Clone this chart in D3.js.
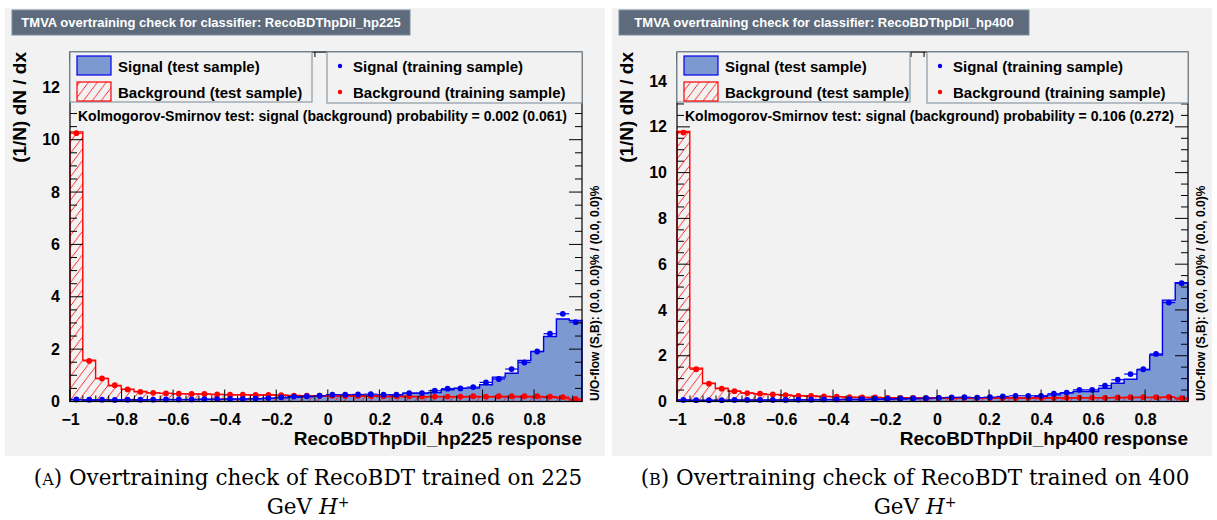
<!DOCTYPE html>
<html><head><meta charset="utf-8">
<script src="https://cdn.jsdelivr.net/npm/d3@7"></script>
<style>
html,body{margin:0;padding:0;background:#fff;}
svg{display:block;}
text{font-family:"Liberation Sans",Arial,sans-serif;font-weight:bold;}
.cap{font-family:"DejaVu Serif","Liberation Serif",serif;font-weight:normal;}
</style></head>
<body>
<svg id="chart" width="1217" height="520"></svg>
<script>
// ---------------- data ----------------
const nBins = 40;
const xTickValues = [-1, -0.8, -0.6, -0.4, -0.2, 0, 0.2, 0.4, 0.6, 0.8];

// Panel A : RecoBDThpDil_hp225
const titleA = "TMVA overtraining check for classifier: RecoBDThpDil_hp225";
const xTitleA = "RecoBDThpDil_hp225 response";
const ksA = "Kolmogorov-Smirnov test: signal (background) probability = 0.002 (0.061)";
const rangeA = [-1, 0.986];
const yMaxA = 13.35;
const yTicksA = [0, 2, 4, 6, 8, 10, 12];
const sigTestA  = [0.07,0.06,0.06,0.06,0.06,0.06,0.07,0.07,0.07,0.07,0.08,0.08,0.09,0.09,0.10,0.12,0.14,0.16,0.18,0.20,0.23,0.24,0.24,0.23,0.19,0.25,0.32,0.32,0.34,0.45,0.51,0.51,0.64,0.93,1.08,1.57,1.91,2.48,3.15,3.10];
const sigTrainA = [0.08,0.07,0.07,0.06,0.07,0.07,0.07,0.08,0.08,0.08,0.09,0.09,0.10,0.10,0.11,0.13,0.16,0.19,0.20,0.22,0.26,0.26,0.27,0.28,0.26,0.26,0.32,0.32,0.41,0.49,0.50,0.55,0.73,0.86,1.24,1.49,1.91,2.59,3.35,3.03];
const bkgTestA  = [10.30,1.58,0.88,0.60,0.47,0.38,0.33,0.31,0.29,0.28,0.28,0.27,0.26,0.26,0.25,0.25,0.24,0.23,0.22,0.22,0.21,0.21,0.20,0.20,0.19,0.19,0.18,0.18,0.18,0.18,0.17,0.17,0.18,0.17,0.18,0.17,0.17,0.15,0.13,0.06];
const bkgTrainA = [10.25,1.55,0.88,0.62,0.46,0.37,0.33,0.31,0.30,0.29,0.29,0.27,0.26,0.26,0.25,0.25,0.24,0.22,0.22,0.22,0.22,0.21,0.21,0.21,0.20,0.20,0.20,0.19,0.19,0.19,0.19,0.20,0.19,0.20,0.20,0.20,0.20,0.19,0.17,0.10];
const capA = ["Overtraining check of RecoBDT trained on 225", "GeV "];

// Panel B : RecoBDThpDil_hp400
const titleB = "TMVA overtraining check for classifier: RecoBDThpDil_hp400";
const xTitleB = "RecoBDThpDil_hp400 response";
const ksB = "Kolmogorov-Smirnov test: signal (background) probability = 0.106 (0.272)";
const rangeB = [-1, 0.965];
const yMaxB = 15.27;
const yTicksB = [0, 2, 4, 6, 8, 10, 12, 14];
const sigTestB  = [0.06,0.05,0.05,0.05,0.06,0.06,0.06,0.06,0.07,0.07,0.07,0.08,0.08,0.09,0.09,0.10,0.10,0.11,0.12,0.13,0.14,0.15,0.15,0.15,0.16,0.16,0.17,0.17,0.22,0.29,0.37,0.44,0.44,0.58,0.80,0.97,1.38,2.03,4.43,5.19];
const sigTrainB = [0.07,0.06,0.06,0.06,0.07,0.07,0.07,0.07,0.07,0.08,0.08,0.09,0.09,0.10,0.10,0.11,0.12,0.13,0.14,0.15,0.16,0.18,0.19,0.17,0.19,0.22,0.25,0.25,0.25,0.34,0.39,0.51,0.51,0.69,0.95,1.20,1.41,2.08,4.32,5.17];
const bkgTestB  = [11.80,1.46,0.80,0.58,0.45,0.37,0.33,0.30,0.27,0.25,0.24,0.22,0.21,0.19,0.18,0.18,0.17,0.17,0.16,0.16,0.16,0.15,0.15,0.15,0.15,0.15,0.15,0.15,0.15,0.15,0.15,0.15,0.16,0.16,0.16,0.17,0.17,0.17,0.18,0.12];
const bkgTrainB = [11.75,1.41,0.78,0.56,0.45,0.37,0.34,0.31,0.28,0.25,0.24,0.22,0.21,0.19,0.18,0.18,0.16,0.16,0.16,0.15,0.15,0.15,0.16,0.16,0.15,0.15,0.15,0.16,0.16,0.16,0.16,0.17,0.17,0.16,0.18,0.19,0.19,0.19,0.20,0.15];
const capB = ["Overtraining check of RecoBDT trained on 400", "GeV "];

const legendLabels = ["Signal (test sample)", "Background (test sample)", "Signal (training sample)", "Background (training sample)"];
const yTitle = "(1/N) dN / dx";
const uoText = "U/O-flow (S,B): (0.0, 0.0)% / (0.0, 0.0)%";

// ---------------- style ----------------
const C = {pad:"#f2f2f2", title:"#5d6b7d", border:"#8a98a6", sigFill:"#7d99d1", sigLine:"#0000ee", bkg:"#ff0000", axis:"#000"};

const svg = d3.select("#chart");
const defs = svg.append("defs");
const hatch = defs.append("pattern").attr("id","hatch").attr("patternUnits","userSpaceOnUse")
  .attr("width",10).attr("height",10).attr("patternTransform","rotate(-8)");
hatch.append("path").attr("d","M0,10 L10,0 M-2,2 L2,-2 M8,12 L12,8").attr("stroke",C.bkg).attr("stroke-width",0.9);

function panel(cfg){
  const g = svg.append("g");
  // pad background
  g.append("rect").attr("x",cfg.padX).attr("y",8).attr("width",600).attr("height",448).attr("fill",C.pad);
  // title box
  g.append("rect").attr("x",cfg.padX+7).attr("y",10).attr("width",cfg.titleW).attr("height",25)
    .attr("fill",C.title).attr("stroke","#7d8b9d").attr("stroke-width",1);
  g.append("text").attr("x",cfg.padX+7+cfg.titleW/2).attr("y",27).attr("text-anchor","middle")
    .attr("fill","#fff").attr("font-size",13).text(cfg.title);

  const x = d3.scaleLinear().domain(cfg.range).range([cfg.x0, cfg.x1]);
  const y = d3.scaleLinear().domain([0, cfg.yMax]).range([401.5, 52]);
  const edges = d3.range(nBins+1).map(i => cfg.range[0] + i*(cfg.range[1]-cfg.range[0])/nBins);

  const stepPath = vals => {
    let p = d3.path();
    p.moveTo(x(edges[0]), y(0));
    vals.forEach((v,i)=>{ p.lineTo(x(edges[i]), y(v)); p.lineTo(x(edges[i+1]), y(v)); });
    p.lineTo(x(edges[nBins]), y(0));
    return p.toString();
  };

  const plot = g.append("g");
  plot.append("path").attr("d", stepPath(cfg.sigTest)).attr("fill",C.sigFill).attr("stroke",C.sigLine).attr("stroke-width",1.4);
  plot.append("path").attr("d", stepPath(cfg.bkgTest)).attr("fill","url(#hatch)").attr("stroke",C.bkg).attr("stroke-width",1.4);

  const pts = (vals,col) => {
    const pg = plot.append("g");
    pg.selectAll("line").data(vals).join("line")
      .attr("x1",(d,i)=>x(edges[i])).attr("x2",(d,i)=>x(edges[i+1]))
      .attr("y1",d=>y(d)).attr("y2",d=>y(d)).attr("stroke",col).attr("stroke-width",1.2);
    pg.selectAll("circle").data(vals).join("circle")
      .attr("cx",(d,i)=>x((edges[i]+edges[i+1])/2)).attr("cy",d=>y(d)).attr("r",2.9).attr("fill",col);
  };
  pts(cfg.bkgTrain, C.bkg);
  pts(cfg.sigTrain, C.sigLine);

  // frame + axes (ticks inside)
  const fr = g.append("g");
  const xMinor = d3.range(-1, cfg.range[1]+1e-9, 0.05);
  const yMinor = d3.range(0, cfg.yMax+1e-9, 0.5);
  const bot = y(0), top = 52;
  const isMajX = d => Math.abs(Math.round(d*5)-d*5)<1e-6;
  fr.selectAll(".xt").data(xMinor).join("line")
    .attr("x1",d=>x(d)).attr("x2",d=>x(d)).attr("y1",bot).attr("y2",d=>bot-(isMajX(d)?12:6)).attr("stroke","#000");
  fr.selectAll(".xtt").data(xMinor).join("line")
    .attr("x1",d=>x(d)).attr("x2",d=>x(d)).attr("y1",top).attr("y2",d=>top+(isMajX(d)?10:5)).attr("stroke","#000");
  fr.selectAll(".yt").data(yMinor).join("line")
    .attr("y1",d=>y(d)).attr("y2",d=>y(d)).attr("x1",cfg.x0).attr("x2",d=>cfg.x0+(d%2===0?13:7)).attr("stroke","#000");
  fr.selectAll(".ytr").data(yMinor).join("line")
    .attr("y1",d=>y(d)).attr("y2",d=>y(d)).attr("x1",cfg.x1).attr("x2",d=>cfg.x1-(d%2===0?13:7)).attr("stroke","#000");
  fr.append("rect").attr("x",cfg.x0).attr("y",top).attr("width",cfg.x1-cfg.x0).attr("height",bot-top)
    .attr("fill","none").attr("stroke","#000").attr("stroke-width",1.2);

  // tick labels via d3 axes (lines hidden)
  const ax = g.append("g").attr("transform",`translate(0,${bot})`)
    .call(d3.axisBottom(x).tickValues(xTickValues).tickSize(0).tickPadding(12).tickFormat(d=>d3.format("")(d).replace("-","\u2212")));
  ax.select(".domain").remove();
  ax.selectAll("text").attr("font-size",16).attr("font-family","Liberation Sans").attr("font-weight","bold").attr("fill","#000");
  const ay = g.append("g").attr("transform",`translate(${cfg.x0},0)`)
    .call(d3.axisLeft(y).tickValues(cfg.yTicks).tickSize(0).tickPadding(10));
  ay.select(".domain").remove();
  ay.selectAll("text").attr("font-size",16).attr("font-family","Liberation Sans").attr("font-weight","bold").attr("fill","#000");

  // axis titles
  g.append("text").attr("x",cfg.x1).attr("y",445).attr("text-anchor","end").attr("font-size",19).text(cfg.xTitle);
  g.append("text").attr("transform",`translate(${cfg.padX+21},52) rotate(-90)`).attr("text-anchor","end")
    .attr("font-size",19).text(yTitle);
  g.append("text").attr("transform",`translate(${cfg.x1+17},401) rotate(-90)`).attr("font-size",12).text(uoText);

  // legends
  const lg = g.append("g");
  lg.append("rect").attr("x",cfg.x0).attr("y",52).attr("width",cfg.leg1W).attr("height",50)
    .attr("fill",C.pad).attr("stroke",C.border).attr("stroke-width",1.2);
  lg.append("rect").attr("x",cfg.x0+cfg.leg2X).attr("y",52).attr("width",cfg.x1-cfg.x0-cfg.leg2X).attr("height",51)
    .attr("fill",C.pad).attr("stroke",C.border).attr("stroke-width",1.2);
  lg.append("rect").attr("x",cfg.x0+7).attr("y",56).attr("width",34).attr("height",19).attr("fill",C.sigFill).attr("stroke",C.sigLine).attr("stroke-width",1.2);
  lg.append("rect").attr("x",cfg.x0+7).attr("y",82).attr("width",34).attr("height",19).attr("fill","url(#hatch)").attr("stroke",C.bkg).attr("stroke-width",1.2);
  lg.append("text").attr("x",cfg.x0+48).attr("y",72).attr("font-size",15).text(legendLabels[0]);
  lg.append("text").attr("x",cfg.x0+48).attr("y",98).attr("font-size",15).text(legendLabels[1]);
  lg.append("circle").attr("cx",cfg.x0+cfg.leg2X+13).attr("cy",66).attr("r",2.2).attr("fill",C.sigLine);
  lg.append("circle").attr("cx",cfg.x0+cfg.leg2X+13).attr("cy",92).attr("r",2.2).attr("fill",C.bkg);
  lg.append("text").attr("x",cfg.x0+cfg.leg2X+26).attr("y",72).attr("font-size",15).text(legendLabels[2]);
  lg.append("text").attr("x",cfg.x0+cfg.leg2X+26).attr("y",98).attr("font-size",15).text(legendLabels[3]);
  g.append("text").attr("x",cfg.x0+8).attr("y",121).attr("font-size",14).text(cfg.ks);

  // caption
  const cx = cfg.padX+303;
  const t1 = g.append("text").attr("class","cap").attr("x",cx).attr("y",485).attr("text-anchor","middle").attr("font-size",21.5);
  t1.append("tspan").text("(");
  t1.append("tspan").attr("font-size",16).text(cfg.letter);
  t1.append("tspan").text(") " + cfg.cap[0]);
  const t2 = g.append("text").attr("class","cap").attr("x",cx).attr("y",514).attr("text-anchor","middle").attr("font-size",21.5);
  t2.append("tspan").text(cfg.cap[1]);
  t2.append("tspan").attr("font-style","italic").text("H");
  t2.append("tspan").attr("font-size",14).attr("dy",-7).text("+");
}

panel({padX:5, titleW:398, title:titleA, x0:70, x1:582, range:rangeA, yMax:yMaxA, yTicks:yTicksA,
  sigTest:sigTestA, sigTrain:sigTrainA, bkgTest:bkgTestA, bkgTrain:bkgTrainA, xTitle:xTitleA, ks:ksA,
  leg1W:242, leg2X:257, cap:capA, letter:"A"});
panel({padX:612, titleW:410, title:titleB, x0:677, x1:1188, range:rangeB, yMax:yMaxB, yTicks:yTicksB,
  sigTest:sigTestB, sigTrain:sigTrainB, bkgTest:bkgTestB, bkgTrain:bkgTrainB, xTitle:xTitleB, ks:ksB,
  leg1W:233, leg2X:250, cap:capB, letter:"B"});
</script>
</body></html>
